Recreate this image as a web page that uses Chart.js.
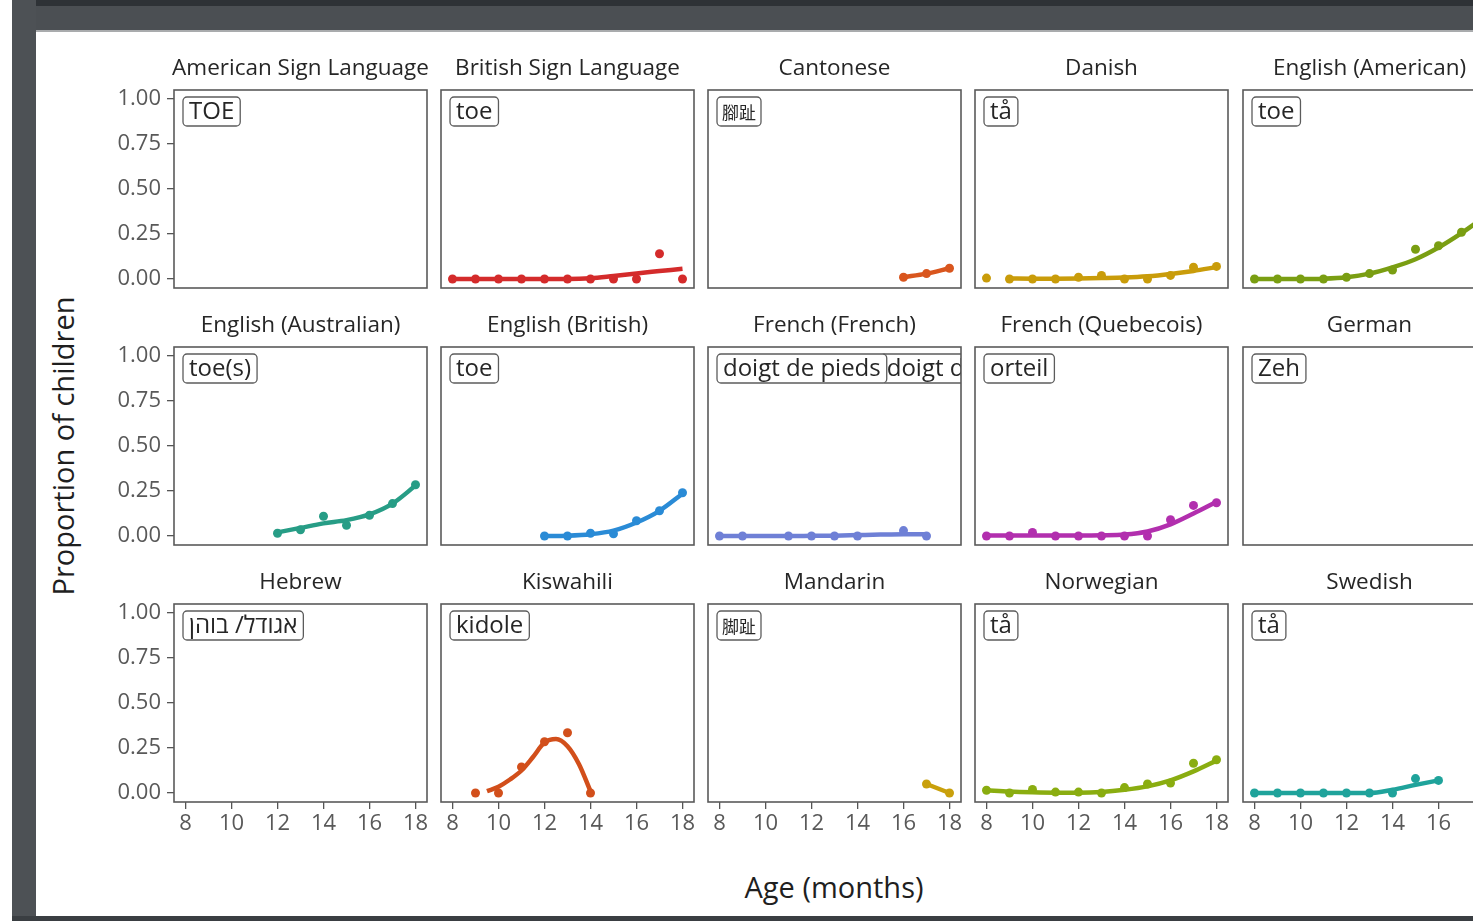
<!DOCTYPE html>
<html>
<head>
<meta charset="utf-8">
<title>Proportion of children producing "toe" by age</title>
<script src="https://cdn.jsdelivr.net/npm/chart.js@4.4.1/dist/chart.umd.min.js"></script>
<style>
  html, body { margin: 0; padding: 0; background: #fff; }
  body { width: 1473px; height: 921px; overflow: hidden; position: relative; font-family: 'Open Sans', sans-serif; }
  .frame { position: absolute; }
  #frameTopDark { left: 12px; top: 0; width: 1461px; height: 6px; background: #2e3236; }
  #frameTop { left: 12px; top: 6px; width: 1461px; height: 24px; background: #4b4f53; }
  #frameTopEdge { left: 36px; top: 30px; width: 1437px; height: 2px; background: #a9abad; }
  #frameLeft { left: 12px; top: 0; width: 24px; height: 921px; background: #4d5155; }
  #frameBottom { left: 12px; top: 916px; width: 1461px; height: 5px; background: #3a3e42; }
  canvas { position: absolute; }
  .axis-title { position: absolute; color: #1f1f1f; font-size: 29px; white-space: nowrap; }
  #xTitle { left: 834px; top: 886px; transform: translate(-50%, -50%); }
  #yTitle { left: 62px; top: 446px; transform: translate(-50%, -50%) rotate(-90deg); }
</style>
</head>
<body>
<div class="frame" id="frameTopDark"></div>
<div class="frame" id="frameTop"></div>
<div class="frame" id="frameTopEdge"></div>
<div class="frame" id="frameLeft"></div>
<div class="frame" id="frameBottom"></div>
<div class="axis-title" id="xTitle">Age (months)</div>
<div class="axis-title" id="yTitle">Proportion of children</div>

<script>
// ---- axis ticks ----
const ageTicks = [8, 10, 12, 14, 16, 18];
const propTicks = [0, 0.25, 0.5, 0.75, 1];

// ---- facet names, the word shown in each facet, series colours ----
const languages = [
  'American Sign Language', 'British Sign Language', 'Cantonese', 'Danish', 'English (American)',
  'English (Australian)', 'English (British)', 'French (French)', 'French (Quebecois)', 'German',
  'Hebrew', 'Kiswahili', 'Mandarin', 'Norwegian', 'Swedish'
];
const words = [
  ['TOE'], ['toe'], ['腳趾'], ['tå'], ['toe'],
  ['toe(s)'], ['toe'], ['doigt de pieds', 'doigt de pied'], ['orteil'], ['Zeh'],
  ['אגודל/ בוהן'], ['kidole'], ['脚趾'], ['tå'], ['tå']
];
const colors = [
  '#888888', '#d42b2b', '#d9561e', '#c99c0a', '#7a9e12',
  '#279d86', '#2a8bd6', '#6f80d6', '#b22fae', '#888888',
  '#888888', '#d24f1b', '#c9a00c', '#8aad10', '#1fa39b'
];

// ---- observed proportions (points) and smoothed fits (lines) ----
const aslAges = [];             const aslProp = [];
const aslFitAges = [];          const aslFit = [];

const bslAges = [8, 9, 10, 11, 12, 13, 14, 15, 16, 17, 18];
const bslProp = [0, 0, 0, 0, 0, 0, 0, 0, 0, 0.14, 0];
const bslFitAges = [8, 9, 10, 11, 12, 13, 14, 15, 16, 17, 18];
const bslFit = [0, 0, 0, 0, 0, 0, 0.004, 0.017, 0.031, 0.044, 0.057];

const yueAges = [16, 17, 18];
const yueProp = [0.01, 0.03, 0.06];
const yueFitAges = [16, 17, 18];
const yueFit = [0.01, 0.03, 0.06];

const danAges = [8, 9, 10, 11, 12, 13, 14, 15, 16, 17, 18];
const danProp = [0.005, 0, 0, 0, 0.01, 0.02, 0, 0, 0.02, 0.065, 0.07];
const danFitAges = [9, 10, 11, 12, 13, 14, 15, 16, 17, 18];
const danFit = [0.003, 0.002, 0.002, 0.003, 0.005, 0.008, 0.015, 0.028, 0.045, 0.066];

const engUsAges = [8, 9, 10, 11, 12, 13, 14, 15, 16, 17, 18];
const engUsProp = [0, 0, 0, 0, 0.01, 0.03, 0.05, 0.165, 0.185, 0.26, 0.36];
const engUsFitAges = [8, 9, 10, 11, 12, 13, 14, 15, 16, 17, 18];
const engUsFit = [0, 0, 0, 0.002, 0.01, 0.03, 0.065, 0.11, 0.175, 0.255, 0.345];

const engAuAges = [12, 13, 14, 15, 16, 17, 18];
const engAuProp = [0.015, 0.035, 0.11, 0.06, 0.115, 0.18, 0.285];
const engAuFitAges = [12, 13, 14, 15, 16, 17, 18];
const engAuFit = [0.02, 0.045, 0.07, 0.088, 0.12, 0.18, 0.28];

const engUkAges = [12, 13, 14, 15, 16, 17, 18];
const engUkProp = [0, 0, 0.015, 0.012, 0.085, 0.14, 0.24];
const engUkFitAges = [12, 13, 14, 15, 16, 17, 18];
const engUkFit = [0, 0.002, 0.01, 0.03, 0.075, 0.14, 0.235];

const freFrAges = [8, 9, 11, 12, 13, 14, 16, 17];
const freFrProp = [0, 0, 0, 0, 0, 0, 0.03, 0];
const freFrFitAges = [8, 9, 10, 11, 12, 13, 14, 15, 16, 17];
const freFrFit = [0, 0, 0, 0, 0.001, 0.002, 0.005, 0.008, 0.01, 0.01];

const freQcAges = [8, 9, 10, 11, 12, 13, 14, 15, 16, 17, 18];
const freQcProp = [0, 0, 0.02, 0, 0, 0, 0, 0, 0.09, 0.17, 0.185];
const freQcFitAges = [8, 9, 10, 11, 12, 13, 14, 15, 16, 17, 18];
const freQcFit = [0.003, 0.003, 0.003, 0.003, 0.003, 0.004, 0.008, 0.025, 0.065, 0.125, 0.19];

const gerAges = [];             const gerProp = [];
const gerFitAges = [];          const gerFit = [];

const hebAges = [];             const hebProp = [];
const hebFitAges = [];          const hebFit = [];

const swaAges = [9, 10, 11, 12, 13, 14];
const swaProp = [0, 0, 0.145, 0.285, 0.335, 0];
const swaFitAges = [9.5, 10, 10.5, 11, 11.5, 12, 12.5, 13, 13.5, 14];
const swaFit = [0.01, 0.035, 0.075, 0.125, 0.2, 0.28, 0.3, 0.26, 0.16, 0.01];

const cmnAges = [17, 18];
const cmnProp = [0.05, 0];
const cmnFitAges = [17, 18];
const cmnFit = [0.05, 0];

const norAges = [8, 9, 10, 11, 12, 13, 14, 15, 16, 17, 18];
const norProp = [0.015, 0, 0.02, 0.005, 0.005, 0, 0.03, 0.05, 0.055, 0.165, 0.185];
const norFitAges = [8, 9, 10, 11, 12, 13, 14, 15, 16, 17, 18];
const norFit = [0.015, 0.008, 0.004, 0.002, 0.002, 0.006, 0.018, 0.037, 0.07, 0.12, 0.18];

const sweAges = [8, 9, 10, 11, 12, 13, 14, 15, 16];
const sweProp = [0, 0, 0, 0, 0, 0, 0, 0.08, 0.07];
const sweFitAges = [8, 9, 10, 11, 12, 13, 14, 15, 16];
const sweFit = [0, 0, 0, 0, 0, 0, 0.018, 0.045, 0.07];

const pointSeries = [
  [aslAges, aslProp], [bslAges, bslProp], [yueAges, yueProp], [danAges, danProp], [engUsAges, engUsProp],
  [engAuAges, engAuProp], [engUkAges, engUkProp], [freFrAges, freFrProp], [freQcAges, freQcProp], [gerAges, gerProp],
  [hebAges, hebProp], [swaAges, swaProp], [cmnAges, cmnProp], [norAges, norProp], [sweAges, sweProp]
];
const fitSeries = [
  [aslFitAges, aslFit], [bslFitAges, bslFit], [yueFitAges, yueFit], [danFitAges, danFit], [engUsFitAges, engUsFit],
  [engAuFitAges, engAuFit], [engUkFitAges, engUkFit], [freFrFitAges, freFrFit], [freQcFitAges, freQcFit], [gerFitAges, gerFit],
  [hebFitAges, hebFit], [swaFitAges, swaFit], [cmnFitAges, cmnFit], [norFitAges, norFit], [sweFitAges, sweFit]
];

// ---- facet grid geometry ----
const COL_LEFT = [174, 441, 708, 975, 1243];
const ROW_TOP = [90, 347, 604];
const PANEL_W = 253, PANEL_H = 198;
const PAD_L = 80, PAD_T = 50, PAD_B = 50, PAD_R = 10;

Chart.defaults.font.family = "'Open Sans', sans-serif";

const toPoints = (xs, ys) => xs.map((x, k) => ({ x: x, y: ys[k] }));
const hasCJK = s => /[\u3400-\u9FFF]/.test(s);

// Panel border, strip title and the word label boxes
const facetDecor = {
  id: 'facetDecor',
  afterDatasetsDraw(chart, args, opts) {
    const ctx = chart.ctx;
    const a = chart.chartArea;
    const w = a.right - a.left, h = a.bottom - a.top;

    // word labels, clipped to the panel
    ctx.save();
    ctx.beginPath();
    ctx.rect(a.left, a.top, w, h);
    ctx.clip();
    const boxes = [];
    let bx = a.left + 9;
    (opts.words || []).forEach(word => {
      const cjk = hasCJK(word);
      const font = cjk ? "17px 'Noto Sans CJK TC'" : "24px 'Open Sans'";
      ctx.font = font;
      const padX = cjk ? 5 : 6;
      const bw = ctx.measureText(word).width + 2 * padX;
      boxes.push({ x: bx, txt: word, font: font, bw: bw, padX: padX });
      bx += bw - 6;
    });
    for (let k = boxes.length - 1; k >= 0; k--) {
      const b = boxes[k];
      const by = a.top + 7, bh = 29;
      ctx.beginPath();
      ctx.roundRect(b.x, by, b.bw, bh, 4);
      ctx.fillStyle = '#ffffff';
      ctx.fill();
      ctx.lineWidth = 1.3;
      ctx.strokeStyle = '#5c5c5c';
      ctx.stroke();
      ctx.font = b.font;
      ctx.fillStyle = '#262626';
      ctx.textAlign = 'left';
      ctx.textBaseline = 'middle';
      ctx.fillText(b.txt, b.x + b.padX, by + bh / 2 + 1);
    }
    ctx.restore();

    // panel border
    ctx.save();
    ctx.lineWidth = 1.6;
    ctx.strokeStyle = '#5a5a5a';
    ctx.strokeRect(a.left, a.top, w, h);
    // strip title
    ctx.font = "22.5px 'Open Sans'";
    ctx.fillStyle = '#262626';
    ctx.textAlign = 'center';
    ctx.textBaseline = 'middle';
    ctx.fillText(opts.title, (a.left + a.right) / 2, a.top - 21);
    ctx.restore();
  }
};

languages.forEach((name, i) => {
  const col = i % 5, row = Math.floor(i / 5);
  const showY = col === 0, showX = row === 2;

  const canvas = document.createElement('canvas');
  canvas.width = PAD_L + PANEL_W + PAD_R;
  canvas.height = PAD_T + PANEL_H + PAD_B;
  canvas.style.left = (COL_LEFT[col] - PAD_L) + 'px';
  canvas.style.top = (ROW_TOP[row] - PAD_T) + 'px';
  document.body.appendChild(canvas);

  const tickFont = { size: 22, family: "'Open Sans', sans-serif" };
  const tickGrid = { display: true, drawOnChartArea: false, drawTicks: true, tickLength: 7, color: '#555555', lineWidth: 1.3 };

  new Chart(canvas, {
    type: 'scatter',
    data: {
      datasets: [
        {
          type: 'line',
          data: toPoints(fitSeries[i][0], fitSeries[i][1]),
          borderColor: colors[i],
          borderWidth: 4.5,
          pointRadius: 0,
          cubicInterpolationMode: 'monotone',
          fill: false
        },
        {
          data: toPoints(pointSeries[i][0], pointSeries[i][1]),
          backgroundColor: colors[i],
          borderColor: colors[i],
          borderWidth: 0,
          pointRadius: 4.5
        }
      ]
    },
    options: {
      responsive: false,
      animation: false,
      devicePixelRatio: 1,
      events: [],
      layout: { padding: { top: PAD_T, right: PAD_R, left: showY ? 0 : PAD_L, bottom: showX ? 0 : PAD_B } },
      plugins: {
        legend: { display: false },
        tooltip: { enabled: false },
        facetDecor: { title: name, words: words[i] }
      },
      scales: {
        x: {
          type: 'linear',
          min: 7.5, max: 18.5,
          display: showX,
          afterBuildTicks: s => { s.ticks = ageTicks.map(v => ({ value: v })); },
          afterFit: showX ? (s => { s.height = PAD_B; }) : undefined,
          ticks: { font: tickFont, color: '#595959', padding: 2, autoSkip: false, maxRotation: 0, callback: v => String(v) },
          grid: tickGrid,
          border: { display: false }
        },
        y: {
          type: 'linear',
          min: -0.05, max: 1.05,
          display: showY,
          afterBuildTicks: s => { s.ticks = propTicks.map(v => ({ value: v })); },
          afterFit: showY ? (s => { s.width = PAD_L; }) : undefined,
          ticks: { font: tickFont, color: '#595959', padding: 6, callback: v => Number(v).toFixed(2) },
          grid: tickGrid,
          border: { display: false }
        }
      }
    },
    plugins: [facetDecor]
  });
});
</script>
</body>
</html>
